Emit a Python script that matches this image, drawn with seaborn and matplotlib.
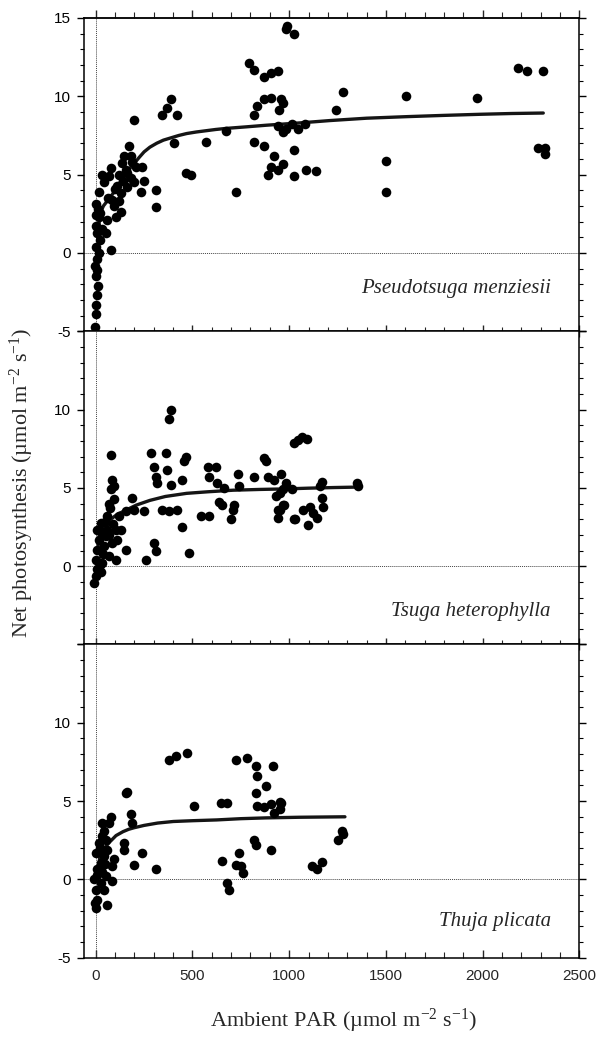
import matplotlib
matplotlib.use("Agg")
import matplotlib.pyplot as plt
import seaborn as sns
from matplotlib.ticker import MultipleLocator

# Light response data (PAR, net photosynthesis)
pm_par = [-2, 0, 2, 8, 12, 3, -4, 8, 2, 8, 0, 15, 3, 22, 30, 24, 15, 10, 5, 0,
          17, 34, 43, 60, 52, 78, 69, 78,
          95, 103, 86, 112, 121, 129, 138, 147, 164, 172, 181, 198, 198, 207,
          233, 241, 250, 310, 310, 345, 371, 388, 422, 405, 466, 491, 569, 672, 724,
          793, 819, 871, 905, 940, 819, 836, 871, 905, 957, 819, 871, 888, 905,
          940, 940, 922, 948, 966, 983, 991, 1026, 1026, 1026, 1043, 1017,
          968, 985, 1080, 968, 1089, 1140, 1244, 1278, 1502, 1502, 1606, 1968,
          2184, 2227, 2313, 2287, 2322, 2322,
          120, 140, 155, 190, 160, 100, 65, 180, 130]
pm_an = [-4.7, -3.9, -3.3, -2.7, -2.1, -1.5, -0.85, -0.4, 0.4, 1.3, 1.7, 2.3, 3.1, 2.55, 1.5, 0.85, 0.0, 2.8, -1.1, 2.4,
         3.9, 5.0, 4.5, 2.1, 1.3, 0.2, 4.9, 5.4,
         3.0, 2.3, 3.4, 4.25, 5.0, 3.8, 5.75, 6.2, 5.1, 6.8, 6.2, 8.5, 4.5, 5.5,
         3.9, 5.5, 4.6, 4.0, 2.9, 8.8, 9.25, 9.8, 8.8, 7.0, 5.1, 5.0, 7.1, 7.8, 3.9,
         12.1, 11.7, 11.2, 11.5, 11.6, 8.8, 9.4, 9.8, 9.9, 9.8, 7.1, 6.8, 5.0, 5.5,
         5.3, 8.1, 6.2, 9.1, 7.7, 14.3, 14.5, 14.0, 4.9, 6.6, 7.9, 8.2,
         9.6, 7.9, 8.2, 5.7, 5.3, 5.2, 9.1, 10.3, 5.85, 3.9, 10.0, 9.9,
         11.8, 11.6, 11.6, 6.7, 6.7, 6.3,
         3.3, 4.6, 5.3, 5.8, 4.2, 4.1, 3.5, 4.8, 2.6]

th_par = [-9, 0, 9, 0, 9, 17, 9, 26, 34, 26, 43, 52, 60, 60, 69, 78, 86, 95, 78,
          86, 103, 69, 103, 112, 121, 129,
          155, 155, 190, 198, 250, 259, 284, 302, 310, 302, 310, 319, 345, 362,
          371, 379, 388, 379, 388, 422, 448, 448, 457, 466, 483, 543, 578, 586,
          586, 621, 629, 638, 655, 698, 707, 716, 733, 741, 664, 819, 871, 879,
          888, 922, 931, 940, 940, 957, 966, 974, 983, 1026, 1026, 1043,
          952, 970, 952, 1013, 1065, 1090, 1030, 1073, 1099, 1107, 1125, 1142,
          1168, 1176, 1168, 1348, 1357, 1159,
          50, 70, 90, 40, 20, 35, 75, 95]
th_an = [-1.05, -0.65, -0.2, 0.4, 1.05, 1.7, 2.3, 2.75, 0.2, -0.4, 1.3, 1.9, 2.3, 3.2, 4.0, 4.9, 5.5, 5.1, 7.1,
         1.5, 0.4, 0.65, 2.3, 1.7, 3.2, 2.3,
         1.05, 3.5, 4.35, 3.6, 3.5, 0.4, 7.2, 6.35, 5.7, 1.5, 0.95, 5.3, 3.6, 7.2,
         6.15, 9.4, 10.0, 3.5, 5.2, 3.6, 5.5, 2.5, 6.7, 7.0, 0.85, 3.2, 6.35, 3.2,
         5.7, 6.35, 5.3, 4.1, 3.9, 3.0, 3.6, 3.9, 5.9, 5.1, 5.0, 5.7, 6.9, 6.7,
         5.7, 5.5, 4.45, 3.6, 3.1, 5.9, 4.9, 3.9, 5.3, 3.0, 7.85, 8.05,
         4.7, 3.9, 3.6, 4.9, 8.25, 8.15, 3.0, 3.6, 2.65, 3.8, 3.4, 3.1,
         4.35, 3.8, 5.4, 5.3, 5.1, 5.1,
         2.8, 2.0, 2.7, 0.8, 0.1, 2.2, 3.7, 4.3]

tp_par = [0, 9, 0, -9, 9, 0, 17, 26, 26, 43, 60, 34, 43, 52, 60, 43, 52, 78, 86,
          95, 86, 69, -5, 5, 20, 30, 50, 35,
          147, 147, 155, 164, 181, 190, 198, 241, 310, 379, 414, 474, 509, 647,
          681, 655, 681, 690, 724, 783, 741, 750, 759, 724, 828, 836, 828, 836,
          819, 828, 879, 914, 905, 905, 957, 922, 871,
          952, 952, 1116, 1142, 1168, 1254, 1271, 1280]
tp_an = [-1.8, -1.3, -0.65, 0.0, 0.65, 1.7, 2.35, 1.05, -0.2, -0.65, -1.6, 3.6, 3.1, 2.55, 1.9, 1.5, 0.2, 4.0, 0.85,
         1.3, -0.1, 3.6, -1.5, 0.3, 2.0, 2.8, 1.0, 0.5,
         2.35, 1.9, 5.5, 5.6, 4.15, 3.6, 0.95, 1.7, 0.65, 7.65, 7.85, 8.1, 4.7, 4.9,
         4.9, 1.2, -0.2, -0.65, 7.65, 7.75, 1.7, 0.85, 0.4, 0.95, 7.25, 6.6, 5.5, 4.7,
         2.55, 2.2, 5.95, 7.25, 1.9, 4.8, 4.9, 4.25, 4.6,
         4.95, 4.5, 0.85, 0.65, 1.1, 2.5, 3.1, 2.9]

# fitted light response curves, traced point by point
pm_fit_par = [10, 22, 40, 65, 90, 115, 147, 170, 198, 225, 250, 280, 315, 350, 390,
              430, 470, 520, 570, 620, 675, 780, 880, 1055, 1211, 1400, 1609, 1800,
              1987, 2150, 2313]
pm_fit_an = [0.8, 2.5, 3.0, 3.4, 3.8, 4.3, 4.9, 5.3, 5.7, 6.1, 6.45, 6.75, 7.0, 7.2,
             7.35, 7.5, 7.62, 7.72, 7.8, 7.88, 7.95, 8.05, 8.15, 8.3, 8.45, 8.6, 8.7,
             8.78, 8.85, 8.9, 8.93]
th_fit_par = [10, 22, 45, 73, 110, 160, 210, 280, 360, 470, 580, 710, 850, 970,
              1100, 1230, 1357]
th_fit_an = [1.0, 2.3, 2.7, 2.95, 3.3, 3.6, 3.9, 4.2, 4.45, 4.65, 4.75, 4.85, 4.9,
             4.93, 4.98, 5.02, 5.05]
tp_fit_par = [10, 22, 45, 73, 105, 141, 170, 198, 250, 320, 401, 500, 625, 750,
              880, 1050, 1288]
tp_fit_an = [0.3, 1.5, 2.0, 2.4, 2.8, 3.05, 3.2, 3.3, 3.45, 3.6, 3.7, 3.75, 3.8,
             3.88, 3.93, 3.97, 4.0]

species = ["Pseudotsuga menziesii", "Tsuga heterophylla", "Thuja plicata"]
label_y = [-2.55, -3.2, -2.95]
x_ticks = [0, 500, 1000, 1500, 2000, 2500]
y_ticks = [-5, 0, 5, 10, 15]
y_ticklabels = [["-5", "0", "5", "10", "15"],
                ["", "0", "5", "10", ""],
                ["-5", "0", "5", "10", ""]]

sns.set_style("ticks")
plt.rcParams["font.family"] = ["Liberation Sans", "DejaVu Sans"]
plt.rcParams["axes.unicode_minus"] = False
plt.rcParams["mathtext.default"] = "regular"

panels = [(pm_par, pm_an, pm_fit_par, pm_fit_an),
          (th_par, th_an, th_fit_par, th_fit_an),
          (tp_par, tp_an, tp_fit_par, tp_fit_an)]

fig = plt.figure(figsize=(5.97, 10.38), dpi=100)
top, h = 0.9827, 0.3018
serif = ["Liberation Serif", "DejaVu Serif"]

for i, (par, an, fpar, fan) in enumerate(panels):
    ax = fig.add_axes([0.1415, top - (i + 1) * h, 0.8291, h])
    ax.axhline(0, color="#444444", lw=0.7, ls=(0, (1, 1)), zorder=1)
    ax.axvline(0, color="#444444", lw=0.7, ls=(0, (1, 1)), zorder=1)
    sns.lineplot(x=fpar, y=fan, ax=ax, color="#151515", lw=2.4, zorder=3)
    sns.scatterplot(x=par, y=an, ax=ax, color="black", s=48, linewidth=0, zorder=4)

    ax.set_xlim(-58, 2500)
    ax.set_ylim(-5, 15)
    ax.set_xticks(x_ticks)
    ax.xaxis.set_minor_locator(MultipleLocator(100))
    ax.set_yticks(y_ticks)
    ax.set_yticklabels(y_ticklabels[i])
    ax.yaxis.set_minor_locator(MultipleLocator(1))
    ax.set_xlabel("")
    ax.set_ylabel("")

    ax.tick_params(axis="y", which="both", left=True, right=True, direction="out",
                   labelsize=11, pad=5, color="black", labelcolor="black")
    ax.tick_params(axis="y", which="major", length=5, width=1)
    ax.tick_params(axis="y", which="minor", length=3, width=0.8)
    ax.tick_params(axis="x", which="both", top=False, bottom=True,
                   direction="in" if i == 2 else "inout",
                   labelbottom=(i == 2), labelsize=11, pad=8)
    ax.tick_params(axis="x", which="major", length=6 if i == 2 else 8, width=1)
    ax.tick_params(axis="x", which="minor", length=4 if i == 2 else 6, width=0.8)
    for sp in ax.spines.values():
        sp.set_visible(True)
        sp.set_linewidth(1.1)
        sp.set_color("black")

    if i == 0:
        sec = ax.secondary_xaxis("top")
        sec.set_xticks(x_ticks)
        sec.xaxis.set_minor_locator(MultipleLocator(100))
        sec.tick_params(axis="x", which="both", direction="out", labeltop=False)
        sec.tick_params(axis="x", which="major", length=6, width=1)
        sec.tick_params(axis="x", which="minor", length=4, width=0.8)
        sec.spines["top"].set_linewidth(1.1)

    ax.text(2352, label_y[i], species[i], ha="right", va="baseline",
            fontsize=15, style="italic", family=serif)

fig.text(0.037, 0.535, "Net photosynthesis (µmol m$^{-2}$ s$^{-1}$)", rotation=90,
         ha="center", va="center", fontsize=16, family=serif)
fig.text(0.575, 0.016, "Ambient PAR (µmol m$^{-2}$ s$^{-1}$)",
         ha="center", va="center", fontsize=16, family=serif)

fig.savefig("out.png", dpi=100)
plt.close(fig)
